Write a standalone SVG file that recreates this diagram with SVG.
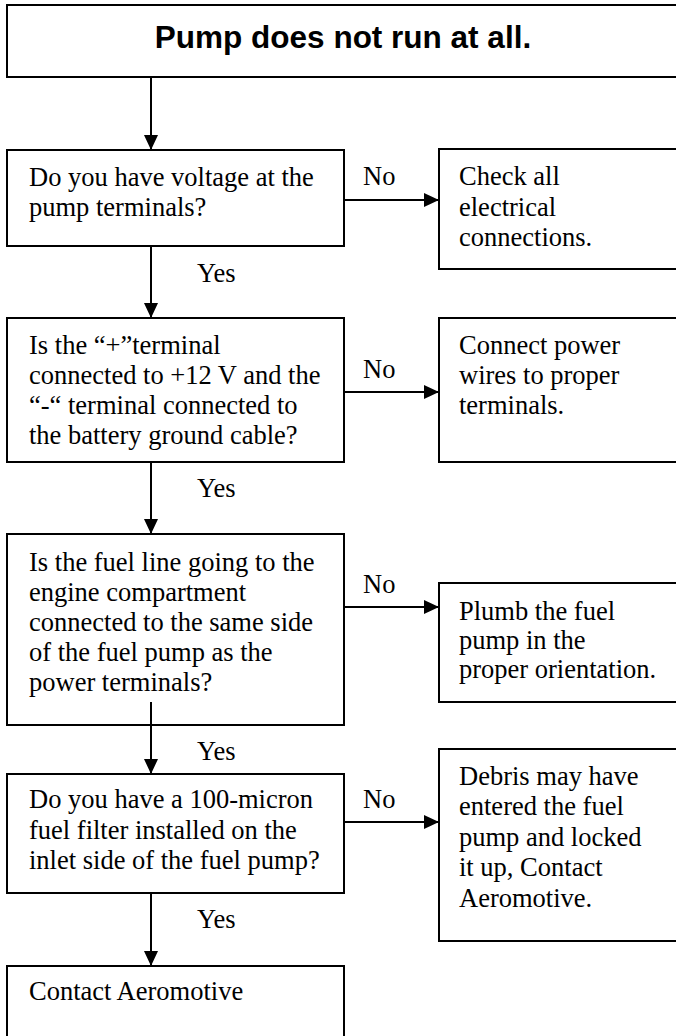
<svg xmlns="http://www.w3.org/2000/svg" width="676" height="1036" viewBox="0 0 676 1036">
<defs>
<style>
.box{fill:#fff;stroke:#000;stroke-width:2}
.t{font-family:"Liberation Serif","Times New Roman",serif;font-size:26.5px;fill:#000}
.title{font-family:"Liberation Sans",Arial,sans-serif;font-size:31.5px;font-weight:bold;fill:#000}
.c{stroke:#000;stroke-width:2;fill:none}
</style>
<marker id="ah" markerUnits="userSpaceOnUse" markerWidth="16" markerHeight="16" viewBox="0 0 16 16" refX="15" refY="8" orient="auto">
<path d="M0,1 L15,8 L0,15 Z" fill="#000"/>
</marker>
</defs>
<rect width="676" height="1036" fill="#fff"/>
<g id="connectors">
<line class="c" x1="151" y1="78" x2="151" y2="150" marker-end="url(#ah)"/>
<line class="c" x1="344" y1="200" x2="439" y2="200" marker-end="url(#ah)"/>
<line class="c" x1="151" y1="246" x2="151" y2="318" marker-end="url(#ah)"/>
<line class="c" x1="344" y1="392" x2="439" y2="392" marker-end="url(#ah)"/>
<line class="c" x1="151" y1="462" x2="151" y2="534" marker-end="url(#ah)"/>
<line class="c" x1="344" y1="607" x2="439" y2="607" marker-end="url(#ah)"/>
<line class="c" x1="151" y1="702" x2="151" y2="774" marker-end="url(#ah)"/>
<line class="c" x1="344" y1="822" x2="439" y2="822" marker-end="url(#ah)"/>
<line class="c" x1="151" y1="893" x2="151" y2="966" marker-end="url(#ah)"/>
<text class="t" x="363" y="185">No</text>
<text class="t" x="197" y="282">Yes</text>
<text class="t" x="363" y="378">No</text>
<text class="t" x="197" y="497">Yes</text>
<text class="t" x="363" y="593">No</text>
<text class="t" x="197" y="760">Yes</text>
<text class="t" x="363" y="808">No</text>
<text class="t" x="197" y="928">Yes</text>
</g>
<g id="title">
<rect class="box" x="7" y="5" width="680" height="72"/>
<text class="title" x="343" y="48" text-anchor="middle">Pump does not run at all.</text>
</g>
<g id="q1">
<rect class="box" x="7" y="150" width="337" height="96"/>
<text class="t" x="29" y="186">Do you have voltage at the</text>
<text class="t" x="29" y="216">pump terminals?</text>
</g>
<g id="a1">
<rect class="box" x="439" y="149" width="250" height="120"/>
<text class="t" x="459" y="185">Check all</text>
<text class="t" x="459" y="216">electrical</text>
<text class="t" x="459" y="246">connections.</text>
</g>
<g id="q2">
<rect class="box" x="7" y="318" width="337" height="144"/>
<text class="t" x="29" y="354">Is the “+”terminal</text>
<text class="t" x="29" y="384">connected to +12 V and the</text>
<text class="t" x="29" y="414">“-“ terminal connected to</text>
<text class="t" x="29" y="444">the battery ground cable?</text>
</g>
<g id="a2">
<rect class="box" x="439" y="318" width="250" height="144"/>
<text class="t" x="459" y="354">Connect power</text>
<text class="t" x="459" y="384">wires to proper</text>
<text class="t" x="459" y="414">terminals.</text>
</g>
<g id="q3">
<rect class="box" x="7" y="534" width="337" height="191"/>
<text class="t" x="29" y="571">Is the fuel line going to the</text>
<text class="t" x="29" y="601">engine compartment</text>
<text class="t" x="29" y="631">connected to the same side</text>
<text class="t" x="29" y="661">of the fuel pump as the</text>
<text class="t" x="29" y="691">power terminals?</text>
<line class="c" x1="151" y1="702" x2="151" y2="725"/>
</g>
<g id="a3">
<rect class="box" x="439" y="583" width="250" height="119"/>
<text class="t" x="459" y="620">Plumb the fuel</text>
<text class="t" x="459" y="649">pump in the</text>
<text class="t" x="459" y="678">proper orientation.</text>
</g>
<g id="q4">
<rect class="box" x="7" y="774" width="337" height="119"/>
<text class="t" x="29" y="808">Do you have a 100-micron</text>
<text class="t" x="29" y="839">fuel filter installed on the</text>
<text class="t" x="29" y="869">inlet side of the fuel pump?</text>
</g>
<g id="a4">
<rect class="box" x="439" y="749" width="250" height="192"/>
<text class="t" x="459" y="785">Debris may have</text>
<text class="t" x="459" y="815">entered the fuel</text>
<text class="t" x="459" y="846">pump and locked</text>
<text class="t" x="459" y="876">it up, Contact</text>
<text class="t" x="459" y="907">Aeromotive.</text>
</g>
<g id="end">
<rect class="box" x="7" y="966" width="337" height="80"/>
<text class="t" x="29" y="1000">Contact Aeromotive</text>
</g>
</svg>
